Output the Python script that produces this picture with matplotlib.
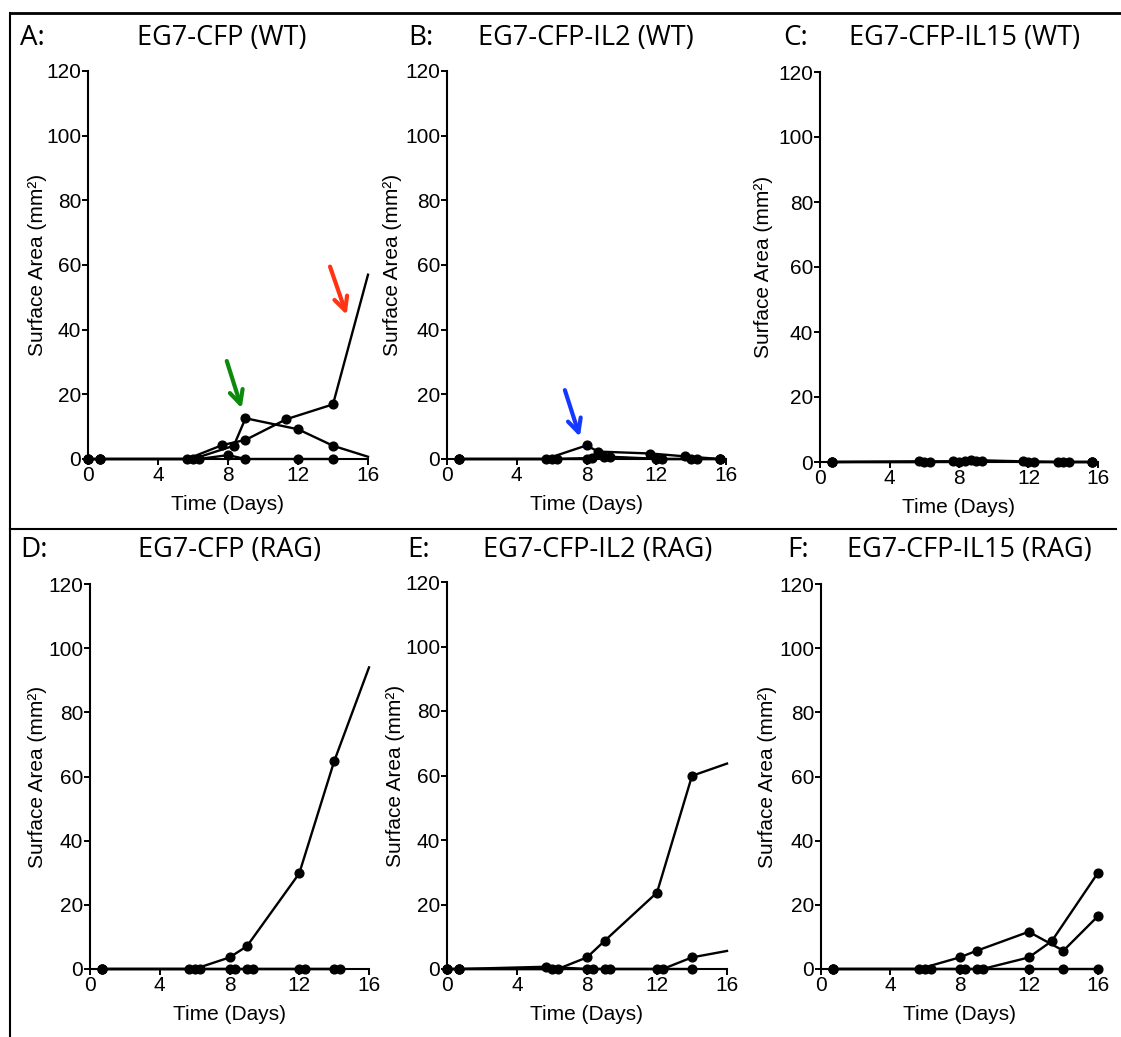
import matplotlib
matplotlib.use("Agg")
import matplotlib.pyplot as plt
from matplotlib.lines import Line2D

# ---- data: tumour surface area (mm^2) per mouse over time (days) ----
days_A = [[0, 0.67, 5.67, 7.67, 9.0, 11.33, 14.0, 16.0],
          [0, 0.67, 6.0, 8.33, 9.0, 12.0, 14.0, 16.0],
          [0, 0.67, 6.33, 8.0, 9.0, 12.0, 14.0]]
area_A = [[0, 0, 0, 4.3, 5.9, 12.3, 16.9, 57.0],
          [0, 0, 0, 4.1, 12.6, 9.2, 4.1, 0.7],
          [0, 0, 0, 1.2, 0, 0, 0]]

days_B = [[0.67, 5.67, 8.0, 8.67, 11.67, 13.67, 15.67],
          [0.67, 6.0, 8.33, 9.0, 12.0, 14.0, 15.67],
          [0.67, 6.33, 8.0, 9.33, 12.33, 14.33, 15.67]]
area_B = [[0, 0, 4.2, 2.3, 1.7, 0.8, 0],
          [0, 0, 0.3, 0.5, 0, 0, 0],
          [0, 0, 0, 0.7, 0, 0, 0]]

days_C = [[0.67, 5.67, 7.67, 8.67, 11.67, 13.67, 15.67],
          [0.67, 6.0, 8.0, 9.0, 12.0, 14.0, 15.67],
          [0.67, 6.33, 8.33, 9.33, 12.33, 14.33, 15.67]]
area_C = [[0, 0.2, 0.2, 0.6, 0.2, 0, 0],
          [0, 0, 0, 0.2, 0, 0, 0],
          [0, 0, 0.2, 0.3, 0, 0, 0]]

days_D = [[0.67, 6.0, 8.0, 9.0, 12.0, 14.0, 16.0],
          [0.67, 5.67, 8.0, 9.0, 12.0, 14.0],
          [0.67, 6.33, 8.33, 9.33, 12.33, 14.33]]
area_D = [[0, 0, 3.6, 7.1, 29.8, 64.7, 94.0],
          [0, 0, 0, 0, 0, 0],
          [0, 0, 0, 0, 0, 0]]

days_E = [[0, 0.67, 6.33, 8.0, 9.0, 12.0, 14.0, 16.0],
          [0, 0.67, 6.0, 8.33, 9.33, 12.33, 14.0, 16.0],
          [0, 0.67, 5.67, 8.0, 9.0, 12.0, 14.0]]
area_E = [[0, 0, 0, 3.6, 8.7, 23.7, 59.9, 63.7],
          [0, 0, 0, 0, 0, 0, 3.6, 5.6],
          [0, 0, 0.7, 0, 0, 0, 0]]

days_F = [[0.67, 5.67, 8.0, 9.0, 12.0, 14.0, 16.0],
          [0.67, 6.33, 8.33, 9.33, 12.0, 13.33, 16.0],
          [0.67, 6.0, 8.0, 9.0, 12.0, 14.0, 16.0]]
area_F = [[0, 0, 3.6, 5.7, 11.6, 5.7, 16.5],
          [0, 0, 0, 0, 3.6, 8.7, 30.0],
          [0, 0, 0, 0, 0, 0, 0]]

letters = ["A:", "B:", "C:", "D:", "E:", "F:"]
titles = ["EG7-CFP (WT)", "EG7-CFP-IL2 (WT)", "EG7-CFP-IL15 (WT)",
          "EG7-CFP (RAG)", "EG7-CFP-IL2 (RAG)", "EG7-CFP-IL15 (RAG)"]
x_ticks = [0, 4, 8, 12, 16]
y_ticks = [0, 20, 40, 60, 80, 100, 120]

# arrows: (panel, tail day, tail area, head day, head area, colour)
arrows = [(0, 7.93, 30.3, 8.78, 15.7, "#0b8a0b"),
          (0, 13.83, 59.5, 14.78, 44.6, "#ff3414"),
          (1, 6.76, 21.3, 7.62, 6.9, "#1438ff")]

# ---- layout (pixels) ----
W, H = 1121, 1037
fig = plt.figure(figsize=(W / 100, H / 100), dpi=100)

def px_axes(l, t, r, b):
    return fig.add_axes([l / W, 1 - b / H, (r - l) / W, (b - t) / H])

rects = [(88, 71, 368, 459), (447, 71, 726, 459), (820, 72, 1098, 462),
         (90, 584, 369, 969), (447, 582, 727, 969), (821, 584, 1098, 969)]
ylabel_gap = [41, 45, 47, 43, 42, 44]
letter_x = [20, 408, 783, 20, 407, 787]
title_cx = [222, 586, 965, 230, 598, 969]
title_base = [45, 45, 45, 557, 557, 557]
# panels whose day-16 measurement is drawn without a marker
no_end_marker = {0, 3, 4}

all_days = [days_A, days_B, days_C, days_D, days_E, days_F]
all_area = [area_A, area_B, area_C, area_D, area_E, area_F]

tick_font = "Liberation Sans"
title_font = "Open Sans"
fs = 15

axes = []
for i in range(6):
    ax = px_axes(*rects[i])
    axes.append(ax)
    for d, a in zip(all_days[i], all_area[i]):
        mk = slice(0, -1) if (i in no_end_marker and d[-1] >= 16) else None
        ax.plot(d, a, color="black", lw=1.7, marker="o", ms=6.3,
                markevery=mk, clip_on=False, zorder=3)
    ax.set_xlim(0, 16)
    ax.set_ylim(0, 120)
    ax.set_xticks(x_ticks)
    ax.set_yticks(y_ticks)
    for s in ["top", "right"]:
        ax.spines[s].set_visible(False)
    for s in ["left", "bottom"]:
        ax.spines[s].set_linewidth(1.5)
    ax.tick_params(direction="out", length=4, width=1.4, pad=1,
                   labelsize=fs)
    for lab in ax.get_xticklabels() + ax.get_yticklabels():
        lab.set_fontfamily(tick_font)
    ax.set_xlabel("Time (Days)", fontsize=fs, fontfamily=tick_font,
                  labelpad=7.5)
    ax.set_ylabel("Surface Area (mm²)", fontsize=fs, fontfamily=tick_font)
    ax.yaxis.set_label_coords(-ylabel_gap[i] / (rects[i][2] - rects[i][0]),
                              0.5)

    fig.text(letter_x[i] / W, 1 - title_base[i] / H, letters[i],
             fontsize=20, fontfamily=title_font, va="baseline", ha="left")
    fig.text(title_cx[i] / W, 1 - title_base[i] / H, titles[i],
             fontsize=19.5, fontfamily=title_font, va="baseline",
             ha="center")

for p, x0, y0, x1, y1, col in arrows:
    axes[p].annotate("", xy=(x1, y1), xytext=(x0, y0),
                     arrowprops=dict(arrowstyle="->", color=col, lw=3,
                                     mutation_scale=24, shrinkA=0,
                                     shrinkB=0))

# panel frame lines
fig.add_artist(Line2D([10 / W, 1.0], [1 - 13 / H, 1 - 13 / H],
                      color="black", lw=2, transform=fig.transFigure))
fig.add_artist(Line2D([10 / W, 10 / W], [1 - 13 / H, 0],
                      color="black", lw=1.5, transform=fig.transFigure))
fig.add_artist(Line2D([10 / W, 1116 / W], [1 - 529 / H, 1 - 529 / H],
                      color="black", lw=1.5, transform=fig.transFigure))

fig.savefig("out.png", dpi=100)
